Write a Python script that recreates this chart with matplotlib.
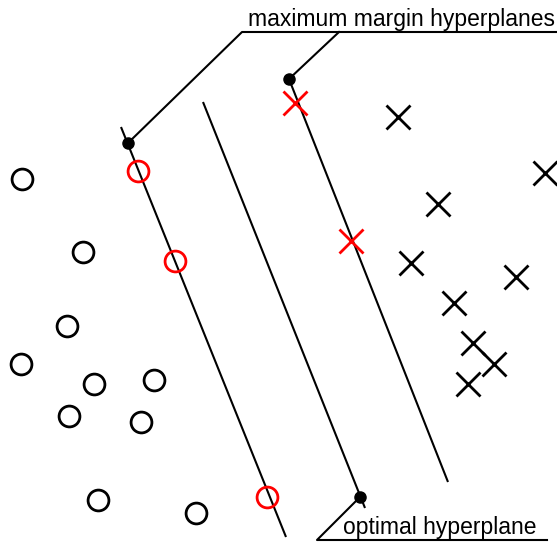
import matplotlib.pyplot as plt

plt.rcParams['font.family'] = ['Liberation Sans', 'DejaVu Sans']

# Class "o" points (black) and support vectors (red)
circle_x = [22, 83, 67, 21, 94, 154, 69, 141, 98, 196]
circle_y = [179, 252, 326, 364, 384, 380, 416, 422, 500, 513]
sv_circle_x = [138, 175, 267]
sv_circle_y = [171, 261, 497]

# Class "x" points (black) and support vectors (red)
cross_x = [398, 545, 438, 411, 516, 454, 473, 494, 468]
cross_y = [117, 173, 204, 263, 277, 303, 343, 364, 384]
sv_cross_x = [295, 351]
sv_cross_y = [103, 241]

# Hyperplanes: (x0, y0, x1, y1)
left_margin = (121, 127, 286, 537)
optimal = (203, 102, 365, 508)
right_margin = (289, 79, 448, 482)

# Leader lines with their anchor dots
dots_x = [128, 289, 360]
dots_y = [143, 79, 497]
top_label = "maximum margin hyperplanes"
bottom_label = "optimal hyperplane"

fig = plt.figure(figsize=(5.57, 5.43), dpi=100)
ax = fig.add_axes([0, 0, 1, 1])
ax.set_xlim(0, 557)
ax.set_ylim(543, 0)
ax.axis('off')

for x0, y0, x1, y1 in [left_margin, optimal, right_margin]:
    ax.plot([x0, x1], [y0, y1], color='black', lw=1.5, solid_capstyle='butt')

# leaders
ax.plot([128, 242, 557], [143, 32, 32], color='black', lw=1.5)
ax.plot([289, 339], [79, 32], color='black', lw=1.5)
ax.plot([360, 317, 547], [497, 540, 540], color='black', lw=1.5)
ax.plot(dots_x, dots_y, 'o', color='black', markersize=8)

ax.text(248, 26, top_label, fontsize=16.5, ha='left', va='baseline')
ax.text(343, 534, bottom_label, fontsize=16.5, ha='left', va='baseline')

ax.plot(circle_x, circle_y, 'o', mfc='none', mec='black', markersize=15, mew=2)
ax.plot(sv_circle_x, sv_circle_y, 'o', mfc='none', mec='#ff0000', markersize=15, mew=2)
ax.plot(cross_x, cross_y, 'x', color='black', markersize=17, mew=2)
ax.plot(sv_cross_x, sv_cross_y, 'x', color='#ff0000', markersize=17, mew=2)

fig.savefig('out.png', dpi=100)
